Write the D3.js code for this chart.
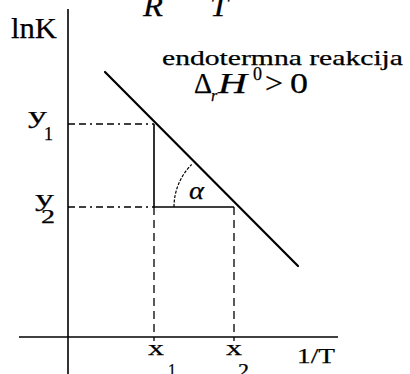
<!DOCTYPE html>
<html>
<head>
<meta charset="utf-8">
<script src="https://cdn.jsdelivr.net/npm/d3@7"></script>
<style>
  html, body { margin: 0; padding: 0; background: #fff; }
  svg { display: block; }
  text { font-family: "Liberation Serif", "Times New Roman", serif; fill: #000; stroke: #000; stroke-width: 0.25; }
</style>
</head>
<body>
<svg id="chart" width="410" height="374"></svg>
<script>
// van 't Hoff plot: ln K against 1/T for an endothermic reaction
const axisX = [-4.9, 27];          // extent of the 1/T axis
const axisY = [-3.7, 32.8];        // extent of the ln K axis
const lineX = [3.7, 23.0];         // straight line ln K = f(1/T)
const lineY = [26.5, 7.1];
const xPoints = [8.6, 16.6];       // x1, x2
const yPoints = [21.3, 13.0];      // y1, y2
const xLabels = ["x", "x"];
const xSubs = ["1", "2"];
const yLabels = ["y", "y"];
const ySubs = ["1", "2"];

const svg = d3.select("#chart");
const x = d3.scaleLinear().domain([0, 27]).range([68, 338]);
const y = d3.scaleLinear().domain([0, 32.8]).range([337, 9]);

// axes
svg.append("line")
  .attr("x1", x(axisX[0])).attr("x2", x(axisX[1]))
  .attr("y1", y(0)).attr("y2", y(0))
  .attr("stroke", "#000").attr("stroke-width", 1.6);
svg.append("line")
  .attr("x1", x(0)).attr("x2", x(0))
  .attr("y1", y(axisY[1])).attr("y2", y(axisY[0]))
  .attr("stroke", "#000").attr("stroke-width", 1.6);

// dash-dot guides from the ln K axis to x1
yPoints.forEach(v => {
  svg.append("line")
    .attr("x1", x(0)).attr("x2", x(xPoints[0]))
    .attr("y1", y(v)).attr("y2", y(v))
    .attr("stroke", "#000").attr("stroke-width", 1.3)
    .attr("stroke-dasharray", "7,4,7,4,2,4");
});

// dashed drops to the 1/T axis
xPoints.forEach(v => {
  svg.append("line")
    .attr("x1", x(v)).attr("x2", x(v))
    .attr("y1", y(yPoints[1])).attr("y2", y(0) + 4)
    .attr("stroke", "#000").attr("stroke-width", 1.3)
    .attr("stroke-dasharray", "8,5");
});

// solid legs of the slope triangle
svg.append("path")
  .attr("d", d3.line()([
    [x(xPoints[0]), y(yPoints[0])],
    [x(xPoints[0]), y(yPoints[1])],
    [x(xPoints[1]), y(yPoints[1])]
  ]))
  .attr("fill", "none").attr("stroke", "#000").attr("stroke-width", 1.6);

// main line
svg.append("path")
  .attr("d", d3.line()(lineX.map((v, i) => [x(v), y(lineY[i])])))
  .attr("fill", "none").attr("stroke", "#000").attr("stroke-width", 2.2)
  .attr("stroke-linecap", "round");

// angle alpha at the (x2, y2) corner, between the horizontal leg and the line
const cx = x(xPoints[1]), cy = y(yPoints[1]);
let slopeAngle = Math.atan2(y(lineY[0]) - y(lineY[1]), x(lineX[0]) - x(lineX[1]));
if (slopeAngle < 0) slopeAngle += 2 * Math.PI;
const arcPts = d3.range(0, 1.0001, 0.02).map(t => {
  const a = Math.PI + t * (slopeAngle - Math.PI);
  return [cx + 60 * Math.cos(a), cy + 60 * Math.sin(a)];
});
svg.append("path")
  .attr("d", d3.line()(arcPts))
  .attr("fill", "none").attr("stroke", "#000").attr("stroke-width", 1.2)
  .attr("stroke-dasharray", "3,1.5");

svg.append("text")
  .attr("x", 189).attr("y", 199)
  .attr("font-size", 25).attr("font-style", "italic")
  .attr("textLength", 15).attr("lengthAdjust", "spacingAndGlyphs")
  .text("α");

// axis titles
svg.append("text").attr("x", 11).attr("y", 38)
  .attr("font-size", 29).attr("textLength", 46).attr("lengthAdjust", "spacingAndGlyphs")
  .text("lnK");
svg.append("text").attr("x", 297).attr("y", 363)
  .attr("font-size", 22).attr("textLength", 38).attr("lengthAdjust", "spacingAndGlyphs")
  .text("1/T");

// x1, x2 labels
const xLabPos = [[148, 168], [226, 238]];
xPoints.forEach((v, i) => {
  svg.append("text").attr("x", xLabPos[i][0]).attr("y", 355)
    .attr("font-size", 22).attr("textLength", 16).attr("lengthAdjust", "spacingAndGlyphs")
    .text(xLabels[i]);
  svg.append("text").attr("x", xLabPos[i][1]).attr("y", 377)
    .attr("font-size", 18).attr("textLength", i === 0 ? 8 : 11).attr("lengthAdjust", "spacingAndGlyphs")
    .text(xSubs[i]);
});

// y1, y2 labels
const yLabPos = [[28, 44], [35, 41]];
yPoints.forEach((v, i) => {
  const base = y(v) - 1;
  svg.append("text").attr("x", yLabPos[i][0]).attr("y", base)
    .attr("font-size", 24).attr("textLength", 19).attr("lengthAdjust", "spacingAndGlyphs")
    .text(yLabels[i]);
  svg.append("text").attr("x", yLabPos[i][1]).attr("y", base + 17)
    .attr("font-size", 18).attr("textLength", i === 0 ? 9 : 14).attr("lengthAdjust", "spacingAndGlyphs")
    .text(ySubs[i]);
});

// annotation
svg.append("text").attr("x", 162).attr("y", 65)
  .attr("font-size", 21).attr("textLength", 241).attr("lengthAdjust", "spacingAndGlyphs")
  .text("endotermna reakcija");

const eq = svg.append("g");
eq.append("text").attr("x", 194).attr("y", 93).attr("font-size", 29)
  .attr("textLength", 18).attr("lengthAdjust", "spacingAndGlyphs").text("Δ");
eq.append("text").attr("x", 211).attr("y", 101).attr("font-size", 16).attr("font-style", "italic")
  .text("r");
eq.append("text").attr("x", 218).attr("y", 93).attr("font-size", 29).attr("font-style", "italic")
  .attr("textLength", 29).attr("lengthAdjust", "spacingAndGlyphs").text("H");
eq.append("text").attr("x", 253).attr("y", 80).attr("font-size", 18)
  .attr("textLength", 9).attr("lengthAdjust", "spacingAndGlyphs").text("0");
eq.append("text").attr("x", 265).attr("y", 93).attr("font-size", 29)
  .attr("textLength", 18).attr("lengthAdjust", "spacingAndGlyphs").text(">");
eq.append("text").attr("x", 290).attr("y", 93).attr("font-size", 29)
  .attr("textLength", 18).attr("lengthAdjust", "spacingAndGlyphs").text("0");

// fragment of the expression above, cut off at the top edge
svg.append("text").attr("x", 143).attr("y", 16).attr("font-size", 30).attr("font-style", "italic")
  .attr("textLength", 20).attr("lengthAdjust", "spacingAndGlyphs").text("R");
svg.append("text").attr("x", 210).attr("y", 16).attr("font-size", 30).attr("font-style", "italic")
  .attr("textLength", 18).attr("lengthAdjust", "spacingAndGlyphs").text("T");
</script>
</body>
</html>
